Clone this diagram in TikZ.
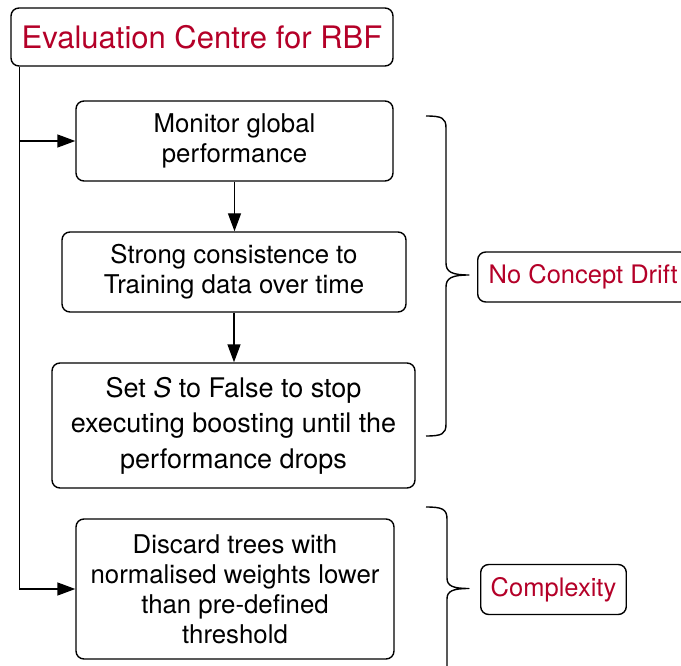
\documentclass[tikz,border=0pt]{standalone}
\usepackage{fontspec}
\setmainfont{TeX Gyre Heros}
\usetikzlibrary{arrows.meta}
\definecolor{rbfred}{RGB}{180,0,40}
\begin{document}
\begin{tikzpicture}[x=1pt,y=-1pt,
  box/.style={draw, line width=1.4pt, rounded corners=8pt, align=center,
    inner sep=0pt, font=\fontsize{25.8}{30}\selectfont},
  tag/.style={draw, line width=1.4pt, rounded corners=8pt, inner ysep=0pt,
    minimum height=50pt, anchor=west, text=rbfred,
    font=\fontsize{25.5}{30}\selectfont},
  link/.style={line width=1.4pt, -{Triangle[length=18pt,width=13pt]}},
  brace/.style={line width=1.4pt, line join=round}]
\useasboundingbox (0,0) rectangle (681,666);

% heading
\node[box, minimum width=382pt, minimum height=58pt, text=rbfred,
  font=\fontsize{31}{36}\selectfont] (title) at (202,37)
  {Evaluation Centre for RBF};

% process steps
\node[box, minimum width=317pt, minimum height=80pt] (monitor) at (234.5,141)
  {Monitor global\\performance};
\node[box, minimum width=344pt, minimum height=80pt] (consist) at (234,272)
  {Strong consistence to\\Training data over time};
\node[box, minimum width=363pt, minimum height=125pt,
  font=\fontsize{27}{35.5}\selectfont] (stop) at (233.5,425.5)
  {Set \textit{S} to False to stop\\executing boosting until the\\performance drops};
\node[box, minimum width=318pt, minimum height=140pt] (discard) at (235,589)
  {Discard trees with\\normalised weights lower\\than pre-defined\\threshold};

% category tags
\node[tag, inner xsep=11pt] (drift) at (477,277) {No Concept Drift};
\node[tag, inner xsep=10pt] (cplx) at (480,589.5) {Complexity};

% connectors
\coordinate (trunk) at ([xshift=9pt]title.south west);
\draw[link] (trunk) |- (discard.west);
\draw[link] (trunk |- monitor.west) -- (monitor.west);
\draw[link] (monitor.south) -- (monitor.south |- consist.north);
\draw[link] (consist.south) -- (consist.south |- stop.north);

% braces grouping the steps
\draw[brace] (426,116) .. controls (442,116) and (446,118) .. (446,128)
  -- (446,263) .. controls (446,272) and (452,275) .. (469,275)
  .. controls (452,275) and (446,278) .. (446,287)
  -- (446,424) .. controls (446,434) and (442,436) .. (426,436);
\draw[brace] (426,507) .. controls (442,507) and (447,509) .. (447,519)
  -- (447,578) .. controls (447,586) and (453,588.5) .. (469,588.5)
  .. controls (453,588.5) and (447,591) .. (447,599)
  -- (447,680);
\end{tikzpicture}
\end{document}
